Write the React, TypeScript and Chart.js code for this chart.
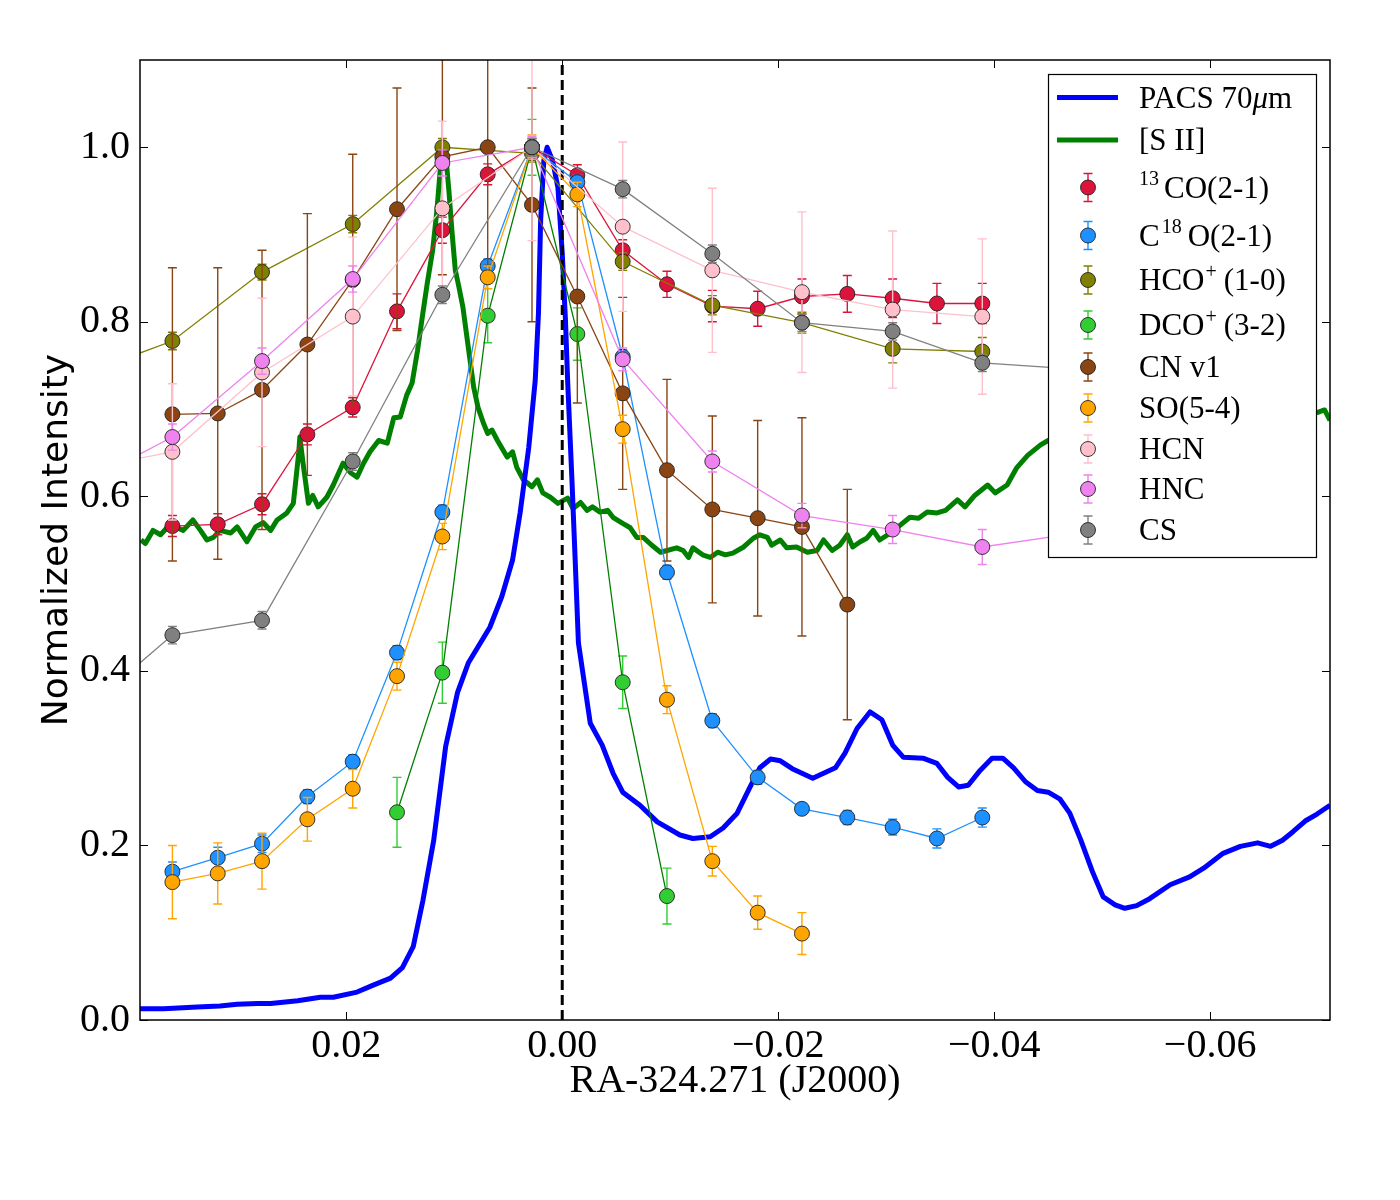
import { useEffect, useRef } from "react";
import { Chart, registerables } from "chart.js";

Chart.register(...registerables);

const SERIF = '"Liberation Serif", "DejaVu Serif", serif';
const SANS = '"DejaVu Sans", sans-serif';

// axes
const xRange = [-0.0711, 0.0391];
const yRange = [0, 1.1];
const xTicks = [-0.06, -0.04, -0.02, 0, 0.02];
const yTicks = [0, 0.2, 0.4, 0.6, 0.8, 1.0];

// cut positions (RA offset, deg): 15" and 30" sampling
const fineRA = [0.0361, 0.0319, 0.0278, 0.0236, 0.0194, 0.0153, 0.0111, 0.0069, 0.0028, -0.0014, -0.0056, -0.0097, -0.0139, -0.0181, -0.0222, -0.0264, -0.0306, -0.0347, -0.0389];
const coarseRA = [0.0444, 0.0361, 0.0278, 0.0194, 0.0111, 0.0028, -0.0056, -0.0139, -0.0222, -0.0306, -0.0389, -0.0472];

// line cuts
const co13 = [0.566, 0.568, 0.591, 0.671, 0.702, 0.812, 0.905, 0.969, 1.0, 0.968, 0.882, 0.843, 0.818, 0.815, 0.829, 0.832, 0.827, 0.821, 0.821];
const co13Err = [0.012, 0.012, 0.012, 0.012, 0.011, 0.02, 0.015, 0.012, 0.01, 0.012, 0.012, 0.015, 0.018, 0.02, 0.02, 0.021, 0.022, 0.023, 0.023];

const c18o = [0.170, 0.186, 0.202, 0.256, 0.296, 0.421, 0.582, 0.864, 1.0, 0.960, 0.760, 0.513, 0.343, 0.278, 0.242, 0.232, 0.221, 0.208, 0.232];
const c18oErr = [0.011, 0.012, 0.01, 0.008, 0.008, 0.008, 0.008, 0.008, 0.008, 0.008, 0.008, 0.008, 0.008, 0.008, 0.006, 0.008, 0.009, 0.011, 0.011];

const hcop = [0.740, 0.778, 0.857, 0.912, 1.0, 0.993, 0.869, 0.819, 0.799, 0.769, 0.766, null];
const hcopErr = [0.01, 0.01, 0.009, 0.01, 0.01, 0.01, 0.01, 0.011, 0.012, 0.016, 0.016, null];

const dcop = [null, null, null, null, null, 0.238, 0.398, 0.807, 1.0, 0.786, 0.387, 0.142, null, null, null, null, null, null, null];
const dcopErr = [null, null, null, null, null, 0.04, 0.035, 0.031, 0.032, 0.03, 0.03, 0.032, null, null, null, null, null, null, null];

const cn = [0.694, 0.695, 0.722, 0.774, 0.848, 0.929, 0.989, 1.0, 0.934, 0.829, 0.718, 0.630, 0.585, 0.575, 0.565, 0.476, null, null, null];
const cnErr = [0.168, 0.167, 0.16, 0.15, 0.144, 0.139, 0.135, 0.135, 0.134, 0.122, 0.11, 0.104, 0.107, 0.112, 0.125, 0.132, null, null, null];

const so = [0.158, 0.168, 0.182, 0.230, 0.265, 0.394, 0.554, 0.851, 1.0, 0.946, 0.677, 0.367, 0.182, 0.123, 0.099, null, null, null, null];
const soErr = [0.042, 0.035, 0.032, 0.025, 0.022, 0.016, 0.015, 0.013, 0.014, 0.014, 0.016, 0.016, 0.017, 0.019, 0.024, null, null, null, null];

const hcn = [0.631, 0.651, 0.742, 0.806, 0.930, 1.0, 0.909, 0.859, 0.834, 0.814, 0.806, null];
const hcnErr = [0.075, 0.078, 0.085, 0.091, 0.1, 0.107, 0.097, 0.094, 0.092, 0.09, 0.089, null];

const hnc = [0.614, 0.668, 0.755, 0.849, 0.982, 1.0, 0.757, 0.640, 0.578, 0.562, 0.542, 0.557];
const hncErr = [0.015, 0.015, 0.015, 0.015, 0.015, 0.012, 0.013, 0.012, 0.014, 0.016, 0.02, 0.02];

const cs = [0.353, 0.441, 0.458, 0.640, 0.831, 1.0, 0.952, 0.878, 0.799, 0.789, 0.753, 0.746];
const csErr = [0.01, 0.01, 0.01, 0.01, 0.01, 0.01, 0.01, 0.01, 0.01, 0.01, 0.01, 0.01];

// PACS 70um profile
const pacsRA = [0.0391, 0.0369, 0.0338, 0.0317, 0.0301, 0.0282, 0.0270, 0.0245, 0.0224, 0.0212,
  0.0190, 0.0175, 0.0159, 0.0148, 0.0138, 0.0129, 0.0119, 0.0108, 0.0097, 0.0087,
  0.0067, 0.0056, 0.0046, 0.0039, 0.0031, 0.0025, 0.0022, 0.0020, 0.0017, 0.0014,
  0.0009, 0.0004, 0.0000, -0.0003, -0.0005, -0.0009, -0.0012, -0.0015, -0.0026, -0.0037,
  -0.0047, -0.0056, -0.0072, -0.0088, -0.0109, -0.0121, -0.0137, -0.0149, -0.0162, -0.0174,
  -0.0183, -0.0193, -0.0202, -0.0213, -0.0232, -0.0253, -0.0262, -0.0273, -0.0285, -0.0296,
  -0.0306, -0.0316, -0.0334, -0.0347, -0.0357, -0.0367, -0.0376, -0.0387, -0.0398, -0.0408,
  -0.0418, -0.0429, -0.0440, -0.0450, -0.0461, -0.0470, -0.0480, -0.0491, -0.0501, -0.0512,
  -0.0521, -0.0532, -0.0544, -0.0563, -0.0581, -0.0594, -0.0612, -0.0628, -0.0644, -0.0656,
  -0.0667, -0.0677, -0.0688, -0.0699, -0.0711];
const pacsFlux = [0.013, 0.013, 0.015, 0.016, 0.018, 0.019, 0.019, 0.022, 0.026, 0.026,
  0.032, 0.040, 0.048, 0.060, 0.084, 0.137, 0.206, 0.313, 0.375, 0.409,
  0.450, 0.485, 0.527, 0.581, 0.656, 0.733, 0.810, 0.916, 0.985, 1.000,
  0.985, 0.954, 0.879, 0.802, 0.733, 0.619, 0.527, 0.432, 0.340, 0.315,
  0.283, 0.261, 0.246, 0.227, 0.212, 0.208, 0.210, 0.220, 0.237, 0.267,
  0.289, 0.299, 0.297, 0.288, 0.277, 0.289, 0.306, 0.334, 0.353, 0.344,
  0.315, 0.301, 0.300, 0.294, 0.278, 0.267, 0.269, 0.286, 0.300, 0.300,
  0.289, 0.273, 0.263, 0.261, 0.253, 0.237, 0.207, 0.170, 0.141, 0.132,
  0.128, 0.131, 0.139, 0.155, 0.164, 0.174, 0.191, 0.199, 0.203, 0.199,
  0.206, 0.216, 0.228, 0.236, 0.246];

// [S II] profile
const siiRA = [0.0390, 0.0386, 0.0379, 0.0372, 0.0366, 0.0358, 0.0351, 0.0342, 0.0335, 0.0329,
  0.0323, 0.0317, 0.0307, 0.0301, 0.0292, 0.0284, 0.0277, 0.0270, 0.0264, 0.0255,
  0.0249, 0.0244, 0.0243, 0.0240, 0.0235, 0.0231, 0.0226, 0.0218, 0.0212, 0.0203,
  0.0196, 0.0190, 0.0184, 0.0178, 0.0170, 0.0162, 0.0156, 0.0150, 0.0144, 0.0139,
  0.0134, 0.0130, 0.0125, 0.0120, 0.0116, 0.0113, 0.0110, 0.0107, 0.0105, 0.0102,
  0.0099, 0.0096, 0.0092, 0.0087, 0.0082, 0.0078, 0.0073, 0.0069, 0.0065, 0.0060,
  0.0051, 0.0046, 0.0042, 0.0036, 0.0028, 0.0023, 0.0018, 0.0011, 0.0004, -0.0005,
  -0.0010, -0.0017, -0.0023, -0.0028, -0.0035, -0.0042, -0.0047, -0.0056, -0.0063, -0.0069,
  -0.0075, -0.0083, -0.0091, -0.0097, -0.0106, -0.0112, -0.0117, -0.0121, -0.0130, -0.0137,
  -0.0144, -0.0151, -0.0158, -0.0168, -0.0177, -0.0183, -0.0190, -0.0194, -0.0202, -0.0208,
  -0.0217, -0.0227, -0.0236, -0.0242, -0.0250, -0.0257, -0.0264, -0.0269, -0.0276, -0.0282,
  -0.0288, -0.0294, -0.0304, -0.0313, -0.0322, -0.0330, -0.0338, -0.0347, -0.0355, -0.0366,
  -0.0373, -0.0382, -0.0394, -0.0401, -0.0412, -0.0421, -0.0431, -0.0443, -0.0450, -0.0498,
  -0.0591, -0.0674, -0.0699, -0.0706, -0.0711];
const siiFlux = [0.550, 0.546, 0.561, 0.556, 0.564, 0.565, 0.561, 0.573, 0.561, 0.550,
  0.553, 0.561, 0.558, 0.565, 0.548, 0.565, 0.570, 0.561, 0.573, 0.581,
  0.592, 0.650, 0.668, 0.638, 0.592, 0.601, 0.588, 0.599, 0.613, 0.638,
  0.627, 0.622, 0.638, 0.651, 0.664, 0.661, 0.690, 0.691, 0.716, 0.730,
  0.767, 0.802, 0.844, 0.882, 0.928, 0.974, 0.985, 0.979, 0.951, 0.902,
  0.859, 0.842, 0.817, 0.771, 0.725, 0.702, 0.684, 0.672, 0.676, 0.664,
  0.645, 0.651, 0.633, 0.619, 0.611, 0.619, 0.604, 0.599, 0.592, 0.598,
  0.586, 0.593, 0.584, 0.588, 0.582, 0.584, 0.576, 0.569, 0.564, 0.553,
  0.553, 0.544, 0.536, 0.538, 0.541, 0.538, 0.530, 0.541, 0.533, 0.530,
  0.536, 0.533, 0.535, 0.542, 0.552, 0.556, 0.553, 0.544, 0.550, 0.541,
  0.542, 0.536, 0.538, 0.550, 0.538, 0.544, 0.556, 0.542, 0.548, 0.552,
  0.561, 0.550, 0.558, 0.567, 0.576, 0.575, 0.582, 0.581, 0.584, 0.596,
  0.588, 0.601, 0.613, 0.604, 0.613, 0.633, 0.647, 0.659, 0.664, 0.676,
  0.687, 0.694, 0.696, 0.699, 0.687];

type Part = { t: string; sup?: boolean; it?: boolean; gap?: number };
type Series = { name: Part[]; color: string; line: string; ra: number[]; val: (number | null)[]; err: (number | null)[] };

const series: Series[] = [
  { name: [{ t: "13", sup: true, gap: 5 }, { t: "CO(2-1)" }], color: "#DC143C", line: "#DC143C", ra: fineRA, val: co13, err: co13Err },
  { name: [{ t: "C", gap: 2 }, { t: "18", sup: true, gap: 6 }, { t: "O(2-1)" }], color: "#1E90FF", line: "#1E90FF", ra: fineRA, val: c18o, err: c18oErr },
  { name: [{ t: "HCO", gap: 1 }, { t: "+", sup: true, gap: 7 }, { t: "(1-0)" }], color: "#808000", line: "#808000", ra: coarseRA, val: hcop, err: hcopErr },
  { name: [{ t: "DCO", gap: 1 }, { t: "+", sup: true, gap: 7 }, { t: "(3-2)" }], color: "#32CD32", line: "#008000", ra: fineRA, val: dcop, err: dcopErr },
  { name: [{ t: "CN v1" }], color: "#8B4513", line: "#8B4513", ra: fineRA, val: cn, err: cnErr },
  { name: [{ t: "SO(5-4)" }], color: "#FFA500", line: "#FFA500", ra: fineRA, val: so, err: soErr },
  { name: [{ t: "HCN" }], color: "#FFC0CB", line: "#FFC0CB", ra: coarseRA, val: hcn, err: hcnErr },
  { name: [{ t: "HNC" }], color: "#EE82EE", line: "#EE82EE", ra: coarseRA, val: hnc, err: hncErr },
  { name: [{ t: "CS" }], color: "#808080", line: "#808080", ra: coarseRA, val: cs, err: csErr },
];

const FIRST_SERIES = 3; // datasets before the error-bar series

function toPts(xs: number[], ys: (number | null)[]) {
  const out: { x: number; y: number }[] = [];
  const n = Math.min(xs.length, ys.length);
  for (let i = 0; i < n; i++) {
    const y = ys[i];
    if (y !== null && y !== undefined) out.push({ x: xs[i], y });
  }
  return out;
}

function drawRich(ctx: CanvasRenderingContext2D, parts: Part[], x: number, y: number) {
  let cx = x;
  for (const p of parts) {
    const size = p.sup ? 20 : 31;
    ctx.font = `${p.it ? "italic " : ""}${size}px ${SERIF}`;
    ctx.fillText(p.t, cx, p.sup ? y - 12.5 : y);
    cx += ctx.measureText(p.t).width + (p.gap ?? 0);
  }
}

const legendRows = [23.5, 66, 113.5, 161.5, 206, 251, 293, 334, 375, 415, 456];

function drawLegend(ctx: CanvasRenderingContext2D, a: { right: number; top: number }) {
  const bx = a.right - 282;
  const by = a.top + 14;
  const bw = 268;
  const bh = 483;
  ctx.fillStyle = "#fff";
  ctx.fillRect(bx, by, bw, bh);
  ctx.strokeStyle = "#000";
  ctx.lineWidth = 1.2;
  ctx.strokeRect(bx + 0.5, by + 0.5, bw, bh);

  const textX = bx + 91;
  const lines: { name: Part[]; color: string }[] = [
    { name: [{ t: "PACS 70" }, { t: "μ", it: true }, { t: "m" }], color: "#0000FF" },
    { name: [{ t: "[S II]" }], color: "#008000" },
  ];
  ctx.textBaseline = "alphabetic";
  ctx.textAlign = "left";
  lines.forEach((l, i) => {
    const y = by + legendRows[i];
    ctx.strokeStyle = l.color;
    ctx.lineWidth = 5;
    ctx.lineCap = "butt";
    ctx.beginPath();
    ctx.moveTo(bx + 9, y);
    ctx.lineTo(bx + 70, y);
    ctx.stroke();
    ctx.fillStyle = "#000";
    drawRich(ctx, l.name, textX, y + 10);
  });
  series.forEach((s, i) => {
    const y = by + legendRows[i + 2];
    const mx = bx + 40;
    ctx.strokeStyle = s.color;
    ctx.lineWidth = 1.4;
    ctx.beginPath();
    ctx.moveTo(mx, y - 14);
    ctx.lineTo(mx, y + 14);
    ctx.moveTo(mx - 4.5, y - 14);
    ctx.lineTo(mx + 4.5, y - 14);
    ctx.moveTo(mx - 4.5, y + 14);
    ctx.lineTo(mx + 4.5, y + 14);
    ctx.stroke();
    ctx.beginPath();
    ctx.arc(mx, y, 7.5, 0, Math.PI * 2);
    ctx.fillStyle = s.color;
    ctx.fill();
    ctx.strokeStyle = "#222";
    ctx.lineWidth = 0.9;
    ctx.stroke();
    ctx.fillStyle = "#000";
    drawRich(ctx, s.name, textX, y + 10);
  });
}

const errorBarPlugin = {
  id: "errorBars",
  beforeDatasetDraw(chart: any, args: any) {
    const s = series[args.index - FIRST_SERIES];
    if (!s) return;
    const { ctx, chartArea: a } = chart;
    const xs = chart.scales.x;
    const ys = chart.scales.y;
    ctx.save();
    ctx.beginPath();
    ctx.rect(a.left, a.top, a.right - a.left, a.bottom - a.top);
    ctx.clip();
    ctx.strokeStyle = s.color;
    ctx.lineWidth = 1.4;
    ctx.beginPath();
    s.val.forEach((v, i) => {
      const e = s.err[i];
      if (v === null || e === null || e === undefined) return;
      const px = xs.getPixelForValue(s.ra[i]);
      const top = ys.getPixelForValue(v + e);
      const bot = ys.getPixelForValue(v - e);
      ctx.moveTo(px, top);
      ctx.lineTo(px, bot);
      ctx.moveTo(px - 4.5, top);
      ctx.lineTo(px + 4.5, top);
      ctx.moveTo(px - 4.5, bot);
      ctx.lineTo(px + 4.5, bot);
    });
    ctx.stroke();
    ctx.restore();
  },
};

const framePlugin = {
  id: "frameAndLegend",
  afterDraw(chart: any) {
    const { ctx, chartArea: a, scales } = chart;
    ctx.save();
    ctx.strokeStyle = "#000";
    ctx.lineWidth = 1;
    ctx.beginPath();
    xTicks.forEach((v) => {
      const p = Math.round(scales.x.getPixelForValue(v)) + 0.5;
      ctx.moveTo(p, a.bottom);
      ctx.lineTo(p, a.bottom - 8);
      ctx.moveTo(p, a.top);
      ctx.lineTo(p, a.top + 8);
    });
    yTicks.forEach((v) => {
      const p = Math.round(scales.y.getPixelForValue(v)) + 0.5;
      ctx.moveTo(a.left, p);
      ctx.lineTo(a.left + 8, p);
      ctx.moveTo(a.right, p);
      ctx.lineTo(a.right - 8, p);
    });
    ctx.stroke();
    ctx.lineWidth = 1.5;
    ctx.strokeRect(a.left, a.top, a.right - a.left, a.bottom - a.top);
    drawLegend(ctx, a);
    ctx.restore();
  },
};

function fmtX(v: number) {
  if (Math.abs(v) < 1e-9) return "0.00";
  return v < 0 ? "\u2212" + (-v).toFixed(2) : v.toFixed(2);
}

export default function App() {
  const canvasRef = useRef<HTMLCanvasElement>(null);

  useEffect(() => {
    if (!canvasRef.current) return;
    const ctx = canvasRef.current.getContext("2d");
    if (!ctx) return;

    const datasets: any[] = [
      {
        label: "[S II]",
        data: toPts(siiRA, siiFlux),
        borderColor: "#008000",
        borderWidth: 5,
        borderJoinStyle: "round",
        pointRadius: 0,
        order: 0,
      },
      {
        label: "PACS 70um",
        data: toPts(pacsRA, pacsFlux),
        borderColor: "#0000FF",
        borderWidth: 5,
        borderJoinStyle: "round",
        pointRadius: 0,
        order: -1,
      },
      {
        label: "zero",
        data: [{ x: 0, y: yRange[0] }, { x: 0, y: yRange[1] }],
        borderColor: "#000",
        borderWidth: 3,
        borderDash: [10, 5],
        pointRadius: 0,
        order: -2,
      },
      ...series.map((s, i) => ({
        label: s.name.map((p) => p.t).join(""),
        data: toPts(s.ra, s.val),
        borderColor: s.line,
        borderWidth: 1.3,
        pointRadius: 7.5,
        pointBackgroundColor: s.color,
        pointBorderColor: "#222",
        pointBorderWidth: 0.9,
        order: -3 - i,
      })),
    ];

    const chart = new Chart(ctx, {
      type: "line",
      data: { datasets },
      options: {
        animation: false,
        responsive: false,
        events: [],
        clip: 0 as any,
        elements: { line: { tension: 0, fill: false } },
        layout: { padding: { top: 60, right: 70, left: 0, bottom: 0 } },
        plugins: { legend: { display: false }, tooltip: { enabled: false } },
        scales: {
          x: {
            type: "linear",
            reverse: true,
            min: xRange[0],
            max: xRange[1],
            grid: { display: false, drawTicks: false },
            border: { display: false },
            afterBuildTicks: (s: any) => {
              s.ticks = xTicks.map((v) => ({ value: v }));
            },
            afterFit: (s: any) => {
              s.height = 180;
            },
            ticks: {
              padding: 2,
              maxRotation: 0,
              autoSkip: false,
              color: "#000",
              font: { family: SERIF, size: 40 },
              callback: (v: any) => fmtX(Number(v)),
            },
            title: {
              display: true,
              text: "RA-324.271 (J2000)",
              color: "#000",
              font: { family: SERIF, size: 40 },
              padding: { top: 0, bottom: 95 },
            },
          },
          y: {
            type: "linear",
            min: yRange[0],
            max: yRange[1],
            grid: { display: false, drawTicks: false },
            border: { display: false },
            afterBuildTicks: (s: any) => {
              s.ticks = yTicks.map((v) => ({ value: v }));
            },
            afterFit: (s: any) => {
              s.width = 140;
            },
            ticks: {
              padding: 10,
              color: "#000",
              font: { family: SERIF, size: 40 },
              callback: (v: any) => Number(v).toFixed(1),
            },
            title: {
              display: true,
              text: "Normalized Intensity",
              color: "#000",
              font: { family: SANS, size: 36 },
              padding: { top: 36, bottom: 0 },
            },
          },
        },
      },
      plugins: [errorBarPlugin, framePlugin],
    });

    return () => {
      chart.destroy();
    };
  }, []);

  return (
    <div style={{ position: "absolute", left: 0, top: 0, width: 1400, height: 1200, background: "#fff" }}>
      <canvas ref={canvasRef} width={1400} height={1200}></canvas>
    </div>
  );
}
